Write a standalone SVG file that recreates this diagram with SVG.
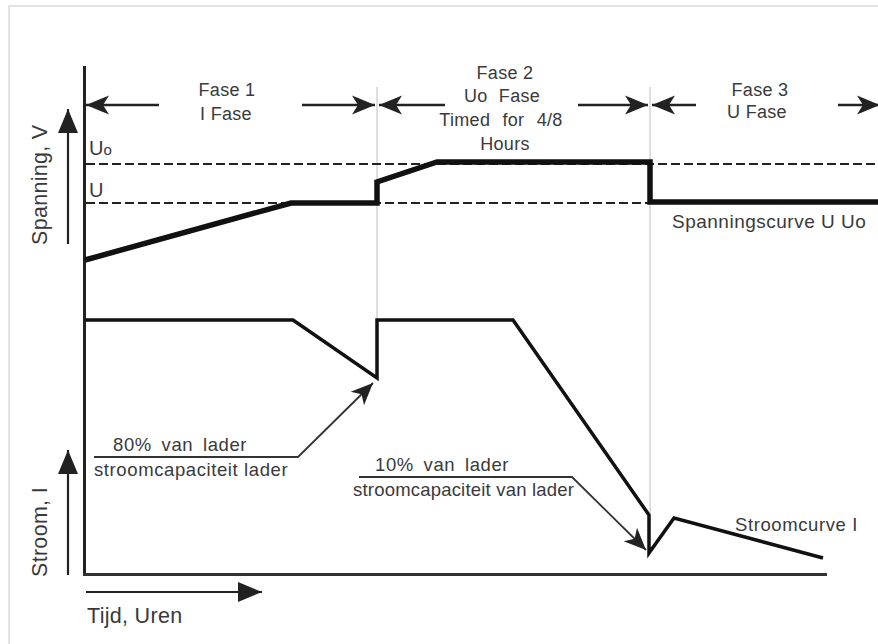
<svg xmlns="http://www.w3.org/2000/svg" width="878" height="644" viewBox="0 0 878 644">
<defs>
<marker id="ah" viewBox="-24 -10 26 20" refX="0" refY="0" markerWidth="26" markerHeight="20" markerUnits="userSpaceOnUse" orient="auto">
<path d="M0,0 L-23,-9.5 L-17,0 L-23,9.5 Z" fill="#222"/>
</marker>
<marker id="ah2" viewBox="-26 -11 28 22" refX="0" refY="0" markerWidth="28" markerHeight="22" markerUnits="userSpaceOnUse" orient="auto">
<path d="M0,0 L-24,-10 L-24,10 Z" fill="#222"/>
</marker>
<marker id="ahs" viewBox="-24 -11 26 22" refX="0" refY="0" markerWidth="26" markerHeight="22" markerUnits="userSpaceOnUse" orient="auto">
<path d="M0,0 L-22,-9.5 L-16,0 L-22,9.5 Z" fill="#222"/>
</marker>
</defs>
<style>
text{font-family:"Liberation Sans",Arial,sans-serif;fill:#3a3a3a}
.ph{font-size:18px;text-anchor:middle;letter-spacing:0.3px}
.ax{font-size:21.5px;letter-spacing:0.3px}
.an{font-size:18.5px;letter-spacing:0.6px}
.arr{stroke:#222;stroke-width:2.5;fill:none}
.grid{stroke:#bdbdbd;stroke-width:1;fill:none}
.dash{stroke:#222;stroke-width:2;stroke-dasharray:9 4;fill:none}
.call{stroke:#333;stroke-width:1.8;fill:none}
</style>
<rect x="9" y="6" width="900" height="700" fill="#fff" stroke="#d2d2d2" stroke-width="1.2"/>

<g id="grid-lines">
<line class="grid" x1="377" y1="87" x2="377" y2="320"/>
<line class="grid" x1="650" y1="87" x2="650" y2="515"/>
</g>

<g id="axes">
<line x1="84.5" y1="66" x2="84.5" y2="575" stroke="#222" stroke-width="3"/>
<line x1="83" y1="574.5" x2="827" y2="574.5" stroke="#333" stroke-width="3"/>
<line x1="68" y1="244" x2="68" y2="109" stroke="#222" stroke-width="2.2" marker-end="url(#ah2)"/>
<line x1="68" y1="575" x2="68" y2="450" stroke="#222" stroke-width="2.2" marker-end="url(#ah2)"/>
<line x1="86" y1="592" x2="262" y2="592" stroke="#222" stroke-width="2.2" marker-end="url(#ah2)"/>
<text class="ax" transform="translate(47,245) rotate(-90)">Spanning, V</text>
<text class="ax" transform="translate(47,577) rotate(-90)">Stroom, I</text>
<text class="ax" x="87" y="623">Tijd, Uren</text>
</g>

<g id="phase-1">
<line class="arr" x1="159" y1="105" x2="86" y2="105" marker-end="url(#ah)"/>
<line class="arr" x1="302" y1="105" x2="375" y2="105" marker-end="url(#ah)"/>
<text class="ph" x="227" y="96">Fase 1</text>
<text class="ph" x="226" y="120">I Fase</text>
</g>
<g id="phase-2">
<line class="arr" x1="445" y1="105" x2="379" y2="105" marker-end="url(#ah)"/>
<line class="arr" x1="578" y1="105" x2="648" y2="105" marker-end="url(#ah)"/>
<text class="ph" x="505" y="79">Fase 2</text>
<text class="ph" x="502" y="102" style="word-spacing:6px">Uo Fase</text>
<text class="ph" x="501" y="126" style="word-spacing:7px">Timed for 4/8</text>
<text class="ph" x="505" y="150">Hours</text>
</g>
<g id="phase-3">
<line class="arr" x1="696" y1="105" x2="652" y2="105" marker-end="url(#ah)"/>
<line class="arr" x1="838" y1="105" x2="880" y2="105" marker-end="url(#ah)"/>
<text class="ph" x="760" y="96">Fase 3</text>
<text class="ph" x="757" y="118">U Fase</text>
</g>

<g id="voltage-levels">
<line class="dash" x1="86" y1="164" x2="878" y2="164"/>
<line class="dash" x1="86" y1="203" x2="878" y2="203"/>
<text x="89" y="155" style="font-size:20px">U<tspan style="font-size:15px">o</tspan></text>
<text x="89" y="197" style="font-size:20px">U</text>
</g>

<g id="voltage-curve">
<polyline points="85,260 291,203 377,203 377,182 437,162 650,162 650,202 878,202" fill="none" stroke="#111" stroke-width="5.5" stroke-linejoin="miter"/>
<text class="an" x="672" y="228" style="font-size:19px;letter-spacing:0.5px">Spanningscurve U Uo</text>
</g>

<g id="current-curve">
<polyline points="85,320 293,320 377,378 377,320 513,320 649,515 649,553 674,518 823,558" fill="none" stroke="#111" stroke-width="3.5" stroke-linejoin="miter"/>
<text class="an" x="735" y="531">Stroomcurve I</text>
</g>

<g id="connectors">
<polyline class="call" points="94,457 298,457 373,383" marker-end="url(#ahs)"/>
<polyline class="call" points="359,477 572,477 646,550" marker-end="url(#ahs)"/>
</g>

<g id="callout-80">
<text class="an" x="113" y="451" style="word-spacing:4px">80% van lader</text>
<text class="an" x="94" y="476">stroomcapaciteit lader</text>
</g>
<g id="callout-10">
<text class="an" x="375" y="471" style="word-spacing:4px">10% van lader</text>
<text class="an" x="353" y="496" style="letter-spacing:0.2px">stroomcapaciteit van lader</text>
</g>
</svg>
